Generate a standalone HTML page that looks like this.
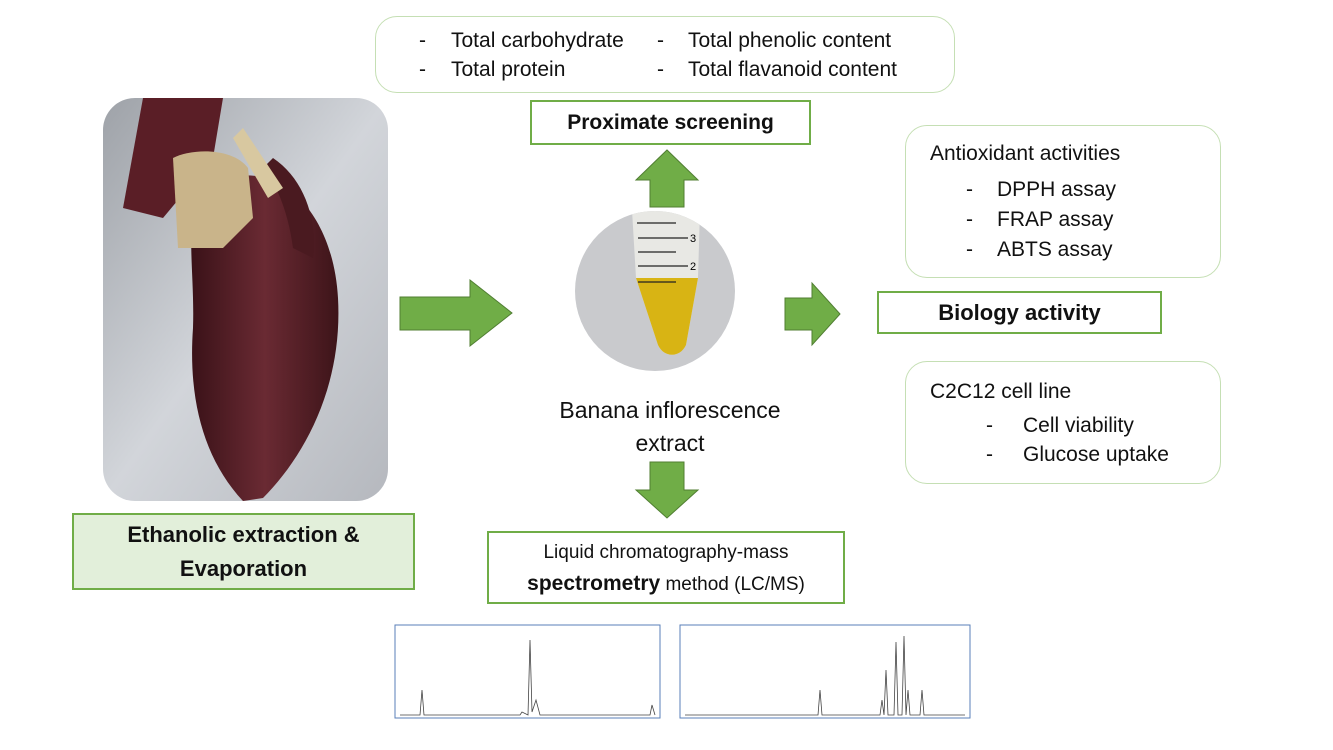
<!DOCTYPE html>
<html><head><meta charset="utf-8"><style>
body{margin:0;width:1333px;height:750px;background:#fff;position:relative;overflow:hidden;font-family:"Liberation Sans",sans-serif;color:#111}
.a{position:absolute;box-sizing:border-box}
.rb{border:1.5px solid #c5dfb4;border-radius:22px;background:#fff}
.gb{border:2px solid #70ad47;background:#fff;display:flex;align-items:center;justify-content:center;text-align:center;font-weight:bold}
.t{position:absolute;font-size:21px;white-space:nowrap}
.d{position:absolute;font-size:21px}
</style></head><body>
<!-- photo -->
<svg class="a" style="left:103px;top:98px" width="285" height="403" viewBox="0 0 285 403">
<defs><clipPath id="c"><rect width="285" height="403" rx="32"/></clipPath>
<linearGradient id="bg" x1="0" y1="0" x2="1" y2="1"><stop offset="0" stop-color="#9ea2a8"/><stop offset="0.5" stop-color="#d2d5da"/><stop offset="1" stop-color="#b5b8be"/></linearGradient>
<linearGradient id="ban" x1="0" y1="0" x2="1" y2="0"><stop offset="0" stop-color="#3a1218"/><stop offset="0.5" stop-color="#6a2a33"/><stop offset="1" stop-color="#3d1419"/></linearGradient></defs>
<g clip-path="url(#c)">
<rect width="285" height="403" fill="url(#bg)"/>
<path d="M40 0 L120 0 L110 60 L60 120 L20 110 Z" fill="#5a1e26"/>
<path d="M100 90 C170 50 230 110 235 200 C240 290 200 360 160 400 L140 403 C100 360 85 300 90 230 C92 170 80 120 100 90Z" fill="url(#ban)"/>
<path d="M170 60 C200 80 215 120 210 160 L190 150 C185 110 170 80 160 70Z" fill="#4a1a20"/>
<path d="M70 60 C90 50 130 50 145 70 L150 120 L120 150 L75 150 Z" fill="#c9b48a"/>
<path d="M140 30 L180 90 L165 100 L130 40Z" fill="#d8c8a0"/>
</g></svg>
<svg class="a" style="left:0;top:0" width="1333" height="750">
<polygon points="400,297 470,297 470,280 512,313 470,346 470,330 400,330" fill="#70ad47" stroke="#507e32" stroke-width="1"/>
<polygon points="785,298 812,298 812,283 840,314 812,345 812,330 785,330" fill="#70ad47" stroke="#507e32" stroke-width="1"/>
<polygon points="650,207 684,207 684,180 698,180 667,150 636,180 650,180" fill="#70ad47" stroke="#507e32" stroke-width="1"/>
<polygon points="650,462 684,462 684,490 698,490 667,518 636,490 650,490" fill="#70ad47" stroke="#507e32" stroke-width="1"/>
<defs><clipPath id="cc"><circle cx="655" cy="291" r="80"/></clipPath></defs>
<circle cx="655" cy="291" r="80" fill="#c9cacd"/>
<g clip-path="url(#cc)">
<path d="M632 210 L700 210 L698 278 L686 345 C680 358 664 358 658 345 L636 278Z" fill="#e8e8e4"/>
<path d="M636 278 L698 278 L686 345 C680 358 664 358 658 345Z" fill="#d8b414"/>
<line x1="637" y1="223" x2="676" y2="223" stroke="#222" stroke-width="1.3"/>
<line x1="638" y1="238" x2="688" y2="238" stroke="#222" stroke-width="1.3"/>
<line x1="638" y1="252" x2="676" y2="252" stroke="#222" stroke-width="1.3"/>
<line x1="638" y1="266" x2="688" y2="266" stroke="#222" stroke-width="1.3"/>
<line x1="638" y1="282" x2="676" y2="282" stroke="#222" stroke-width="1.3"/>
<text x="690" y="242" font-size="11" font-family="Liberation Sans">3</text>
<text x="690" y="270" font-size="11" font-family="Liberation Sans">2</text>
</g>
<rect x="395" y="625" width="265" height="93" fill="#fff" stroke="#5a7fb8" stroke-width="1"/>
<polyline points="400,715 420,715 422,690 424,715 520,715 522,712 528,715 530,640 532,712 536,700 540,715 650,715 652,705 655,715" fill="none" stroke="#444" stroke-width="0.8"/>
<rect x="680" y="625" width="290" height="93" fill="#fff" stroke="#5a7fb8" stroke-width="1"/>
<polyline points="685,715 818,715 820,690 822,715 880,715 882,700 884,715 886,670 888,715 894,715 896,642 898,715 902,715 904,636 906,715 908,690 910,715 920,715 922,690 924,715 965,715" fill="none" stroke="#444" stroke-width="0.8"/>
</svg>
<div class="a rb" style="left:375px;top:16px;width:580px;height:77px"></div>
<div class="d" style="left:419px;top:29px">-</div><div class="t" style="left:451px;top:29px">Total carbohydrate</div>
<div class="d" style="left:419px;top:58px">-</div><div class="t" style="left:451px;top:58px">Total protein</div>
<div class="d" style="left:657px;top:29px">-</div><div class="t" style="left:688px;top:29px">Total phenolic content</div>
<div class="d" style="left:657px;top:58px">-</div><div class="t" style="left:688px;top:58px">Total flavanoid content</div>
<div class="a gb" style="left:530px;top:100px;width:281px;height:45px;font-size:21px">Proximate screening</div>
<div class="t" style="left:530px;top:394px;font-size:23px;text-align:center;width:280px;line-height:33px">Banana inflorescence<br>extract</div>
<div class="a rb" style="left:905px;top:125px;width:316px;height:153px"></div>
<div class="t" style="left:930px;top:142px">Antioxidant activities</div>
<div class="d" style="left:966px;top:178px">-</div><div class="t" style="left:997px;top:178px">DPPH assay</div>
<div class="d" style="left:966px;top:208px">-</div><div class="t" style="left:997px;top:208px">FRAP assay</div>
<div class="d" style="left:966px;top:238px">-</div><div class="t" style="left:997px;top:238px">ABTS assay</div>
<div class="a gb" style="left:877px;top:291px;width:285px;height:43px;font-size:22px">Biology activity</div>
<div class="a rb" style="left:905px;top:361px;width:316px;height:123px"></div>
<div class="t" style="left:930px;top:380px">C2C12 cell line</div>
<div class="d" style="left:986px;top:414px">-</div><div class="t" style="left:1023px;top:414px">Cell viability</div>
<div class="d" style="left:986px;top:443px">-</div><div class="t" style="left:1023px;top:443px">Glucose uptake</div>
<div class="a gb" style="left:72px;top:513px;width:343px;height:77px;background:#e2efda;font-size:22px;line-height:34px">Ethanolic extraction &amp;<br>Evaporation</div>
<div class="a" style="left:487px;top:531px;width:358px;height:73px;border:2px solid #70ad47;text-align:center;font-size:19px;line-height:31px;padding-top:4px;white-space:nowrap">Liquid chromatography-mass<br><b style="font-size:21px">spectrometry</b> method (LC/MS)</div>
</body></html>
